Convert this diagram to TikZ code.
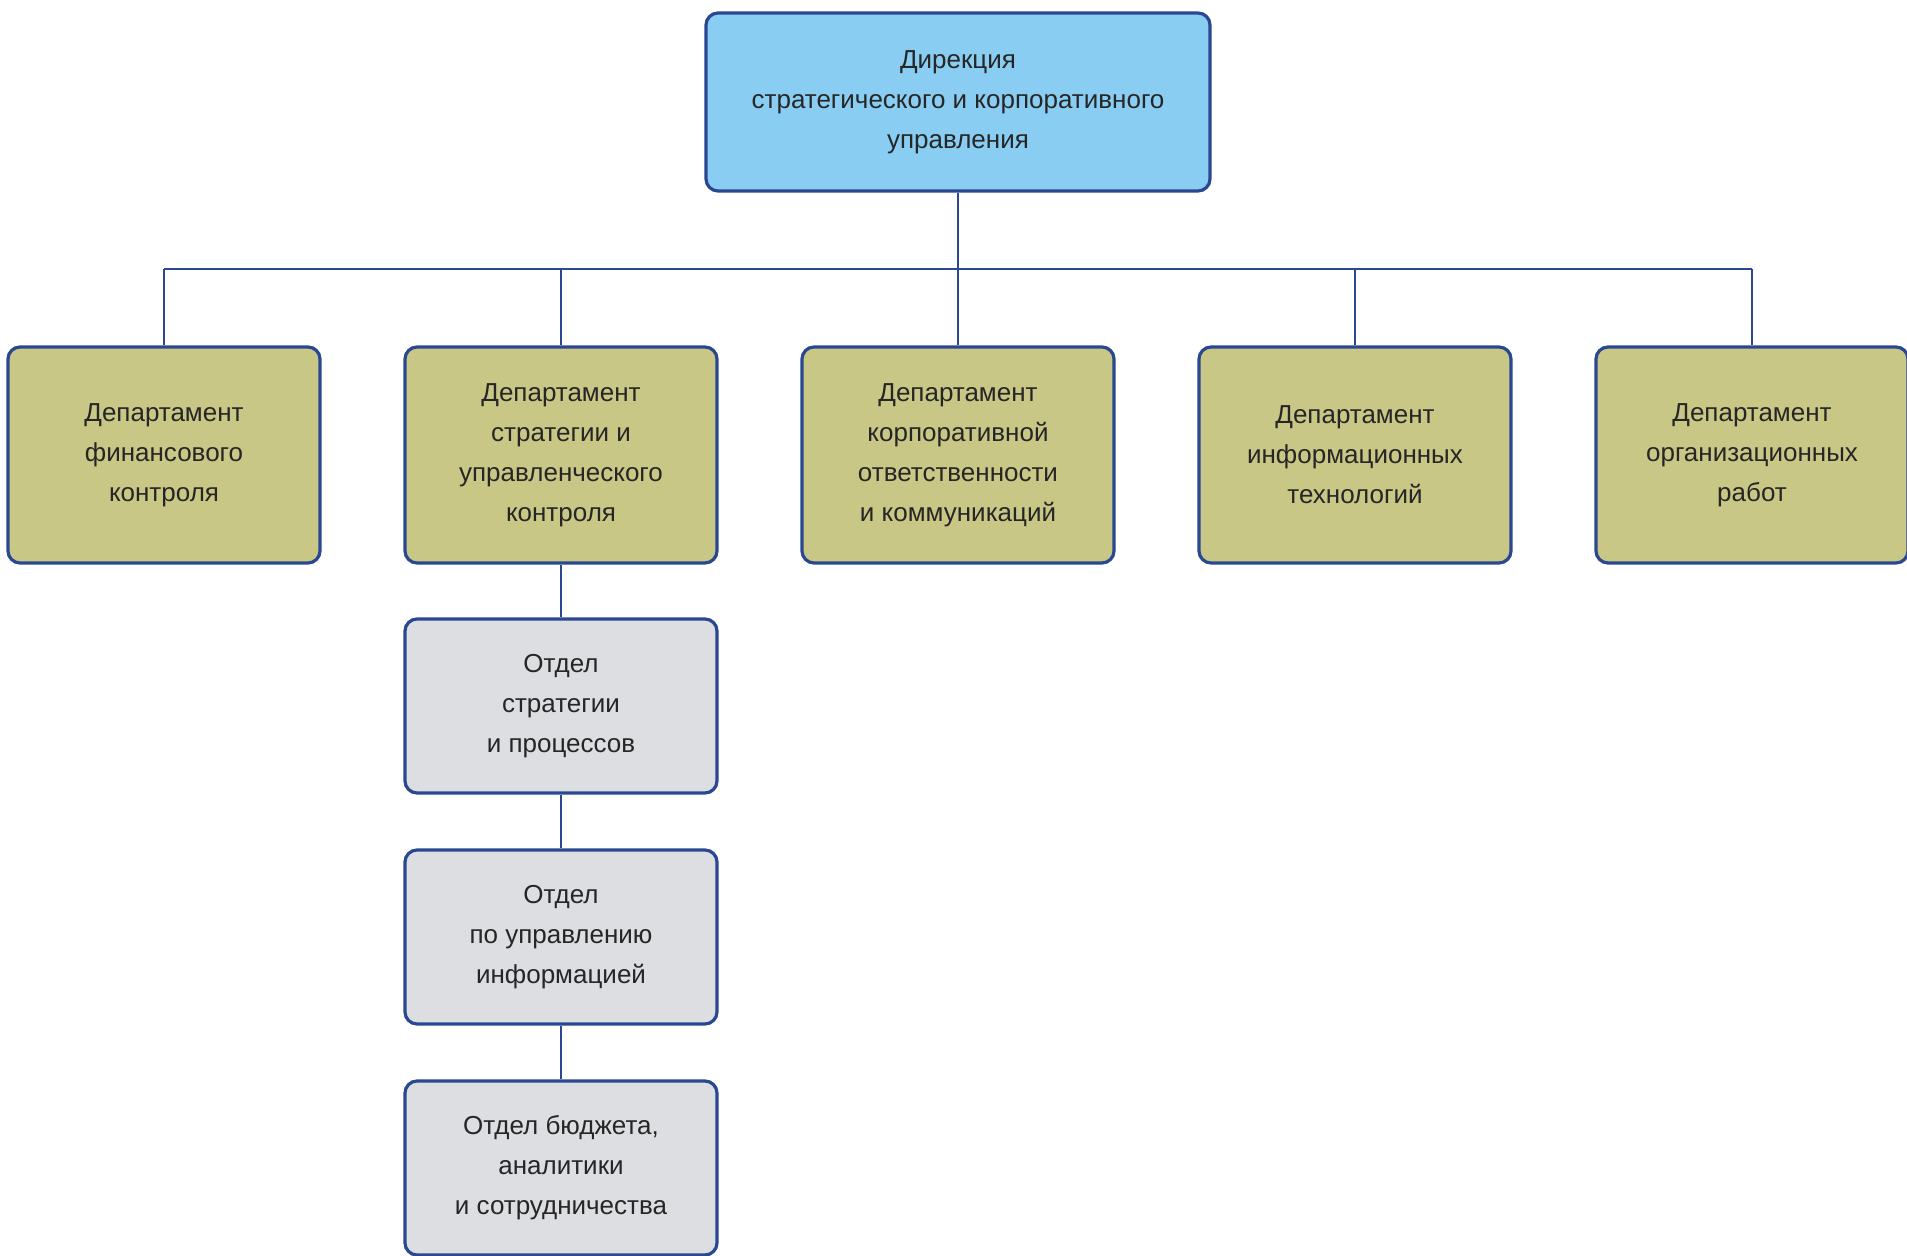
\documentclass[tikz,border=0pt]{standalone}
\usepackage{fontspec}
\setmainfont{Liberation Sans}
\usetikzlibrary{positioning, calc}
\definecolor{dirblue}{RGB}{137,205,243}
\definecolor{depolive}{RGB}{201,199,133}
\definecolor{otdgray}{RGB}{221,222,226}
\definecolor{edgeblue}{RGB}{42,72,145}
\definecolor{txtgray}{RGB}{38,38,38}

\begin{document}
\begin{tikzpicture}[x=0.5pt,y=-0.5pt,
    box/.style={draw=edgeblue, line width=1.6pt, rounded corners=6pt, align=center,
      text=txtgray, font=\fontsize{13}{20}\selectfont, inner sep=0pt},
    dirbox/.style={box, fill=dirblue, minimum width=252pt, minimum height=89pt},
    depbox/.style={box, fill=depolive, minimum width=156pt, minimum height=108pt},
    otdbox/.style={box, fill=otdgray, minimum width=156pt, minimum height=87pt},
    link/.style={draw=edgeblue, line width=1.3pt}]
    \useasboundingbox (0,0) rectangle (1907,1256);
    \fill[white] (0,0) rectangle (1907,1256);

    \node (dir) [dirbox] at (958,102) {Дирекция\\стратегического и корпоративного\\управления};

    \node (d1) [depbox] at (164,455) {Департамент\\финансового\\контроля};
    \node (d2) [depbox] at (561,455) {Департамент\\стратегии и\\управленческого\\контроля};
    \node (d3) [depbox] at (958,455) {Департамент\\корпоративной\\ответственности\\и коммуникаций};
    \node (d4) [depbox] at (1355,455) {Департамент\\информационных\\технологий};
    \node (d5) [depbox] at (1752,455) {Департамент\\организационных\\работ};

    \node (s1) [otdbox] at (561,706) {Отдел\\стратегии\\и процессов};
    \node (s2) [otdbox] at (561,937) {Отдел\\по управлению\\информацией};
    \node (s3) [otdbox] at (561,1168) {Отдел бюджета,\\аналитики\\и сотрудничества};

    \coordinate (bus) at (958,269);
    \draw[link] (dir.south) -- (bus);
    \draw[link] (d1.north |- bus) -- (d5.north |- bus);
    \foreach \d in {d1,d2,d3,d4,d5}
    \draw[link] (\d.north |- bus) -- (\d.north);

    \draw[link] (d2.south) -- (s1.north);
    \draw[link] (s1.south) -- (s2.north);
    \draw[link] (s2.south) -- (s3.north);
  \end{tikzpicture}
\end{document}
